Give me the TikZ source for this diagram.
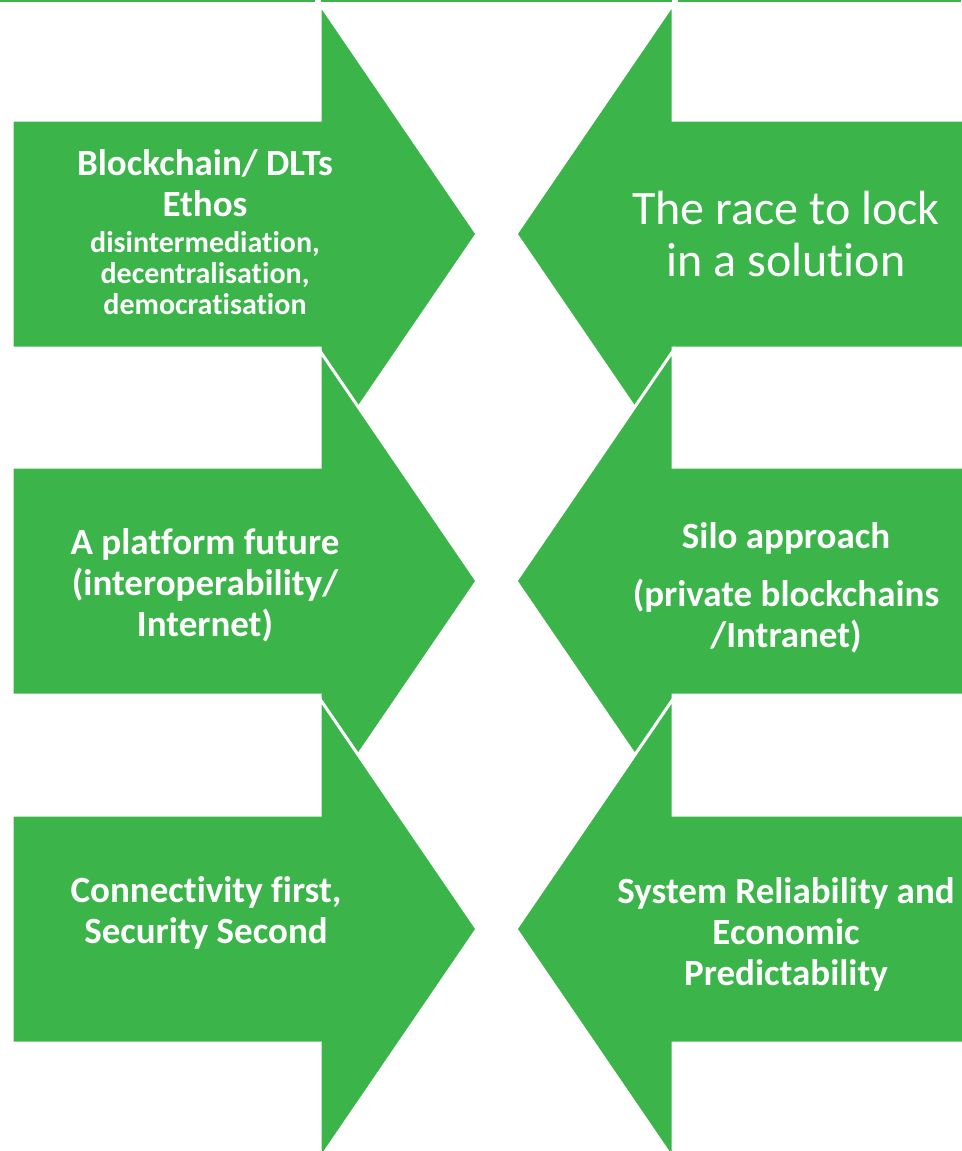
\documentclass[tikz,border=0pt]{standalone}
\usepackage{fontspec}
\setmainfont{Carlito}[Ligatures=NoCommon]
\usetikzlibrary{positioning}
\definecolor{arrowgreen}{RGB}{59,181,74}

\tikzset{
  pointer/.style={fill=arrowgreen, draw=white, line width=3pt, line join=miter},
  bigtext/.style={text=white, align=center, inner sep=0pt, font=\bfseries\fontsize{37}{41}\selectfont},
  smalltext/.style={text=white, align=center, inner sep=0pt, font=\bfseries\fontsize{30}{31}\selectfont},
  thintext/.style={text=white, align=center, inner sep=0pt, font=\fontsize{48}{52}\selectfont},
}

% arrow pointing right / left, centred at height #1
\newcommand{\rightpointer}[1]{%
  \path[pointer] (12,#1-114) -- (320,#1-114) -- (320,#1-230) -- (477,#1)
    -- (320,#1+230) -- (320,#1+114) -- (12,#1+114) -- cycle;}
\newcommand{\leftpointer}[1]{%
  \path[pointer] (975,#1-114) -- (673,#1-114) -- (673,#1-230) -- (516,#1)
    -- (673,#1+230) -- (673,#1+114) -- (975,#1+114) -- cycle;}

\begin{document}
\begin{tikzpicture}[x=1pt,y=-1pt]
\useasboundingbox (0,0) rectangle (961,1151);

% rule along the top
\draw[arrowgreen, line width=1.5pt] (0,0.75) -- (315,0.75) (321,0.75) -- (672,0.75) (678,0.75) -- (961,0.75);

% the six arrows
\rightpointer{234}
\rightpointer{581}
\rightpointer{929}
\leftpointer{234}
\leftpointer{581}
\leftpointer{929}

% left column
\node[bigtext] (ethos) at (205,183) {Blockchain/ DLTs\\Ethos};
\node[smalltext] (ethoslist) at (205,273) {disintermediation,\\decentralisation,\\democratisation};
\node[bigtext] (platform) at (205,585) {A platform future\\(interoperability/\\Internet)};
\node[bigtext] (connect) at (206,913) {Connectivity first,\\Security Second};

% right column
\node[thintext] (race) at (786,234) {The race to lock\\in a solution};
\node[bigtext] (silo) at (786,588) {Silo approach\\[17pt](private blockchains\\/Intranet)};
\node[bigtext] (reliable) at (786,934) {System Reliability and\\Economic\\Predictability};
\end{tikzpicture}
\end{document}
